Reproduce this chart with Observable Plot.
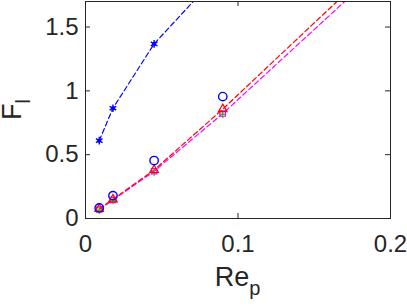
<!DOCTYPE html>
<html>
<head>
<meta charset="utf-8">
<script src="https://cdn.jsdelivr.net/npm/d3@7"></script>
<script src="https://cdn.jsdelivr.net/npm/@observablehq/plot@0.6"></script>
<style>
  html, body { margin: 0; padding: 0; background: #fff; }
  #chart svg { display: block; }
</style>
</head>
<body>
<div id="chart"></div>
<script>
// Data
const rep = [0.009, 0.018, 0.045, 0.09];
const repExt = [0.009, 0.018, 0.045, 0.09, 0.18];
const blueStar = [0.61, 0.864, 1.368, 1.95];
const blueCircle = [0.083, 0.179, 0.454, 0.955];
const redTri = [0.075, 0.15, 0.38, 0.857, 1.87];
const magSq = [0.07, 0.145, 0.37, 0.822, 1.81];
const greenMk = [0.065, 0.14, 0.36, 0.815];
const xTicks = [0, 0.1, 0.2];
const yTicks = [0, 0.5, 1, 1.5];
const xTickLabels = ["0", "0.1", "0.2"];
const yTickLabels = ["0", "0.5", "1", "1.5"];

const toRows = (xs, ys) => ys.map((y, i) => ({x: xs[i], y}));
const starRows = toRows(rep, blueStar);
const circRows = toRows(rep, blueCircle);
const redRows = toRows(repExt, redTri);
const magRows = toRows(repExt, magSq);
const greenRows = toRows(rep, greenMk);

const W = 407, H = 305;
const mL = 85, mR = 17, mT = 1, mB = 87;
const innerW = W - mL - mR, innerH = H - mT - mB;
const axisColor = "#262626";
const dash = "5,3";

const plot = Plot.plot({
  width: W, height: H,
  marginLeft: mL, marginRight: mR, marginTop: mT, marginBottom: mB,
  style: {fontFamily: "'Liberation Sans', Arial, Helvetica, sans-serif", color: axisColor, background: "#fff", overflow: "visible"},
  x: {domain: [0, 0.2]},
  y: {domain: [0, 1.7]},
  marks: [
    // lines
    Plot.line(starRows, {x: "x", y: "y", stroke: "#0000ff", strokeWidth: 1.2, strokeDasharray: dash, clip: true}),
    Plot.line(magRows, {x: "x", y: "y", stroke: "#ff00ff", strokeWidth: 1.2, strokeDasharray: dash, clip: true}),
    Plot.line(redRows, {x: "x", y: "y", stroke: "#ff0000", strokeWidth: 1.2, strokeDasharray: dash, clip: true}),
    // markers
    Plot.dot(greenRows, {x: "x", y: "y", symbol: "plus", r: 2.5, stroke: "#00e000", strokeWidth: 1.2, clip: true}),
    Plot.dot(magRows, {x: "x", y: "y", symbol: "square", r: 3, stroke: "#ff00ff", strokeWidth: 1.2, clip: true}),
    Plot.dot(redRows, {x: "x", y: "y", symbol: "triangle", r: 3.2, stroke: "#ff0000", strokeWidth: 1.2, clip: true}),
    Plot.dot(circRows, {x: "x", y: "y", r: 4.2, stroke: "#0000ff", strokeWidth: 1.4, clip: true}),
    Plot.dot(starRows, {x: "x", y: "y", symbol: "asterisk", r: 3.6, stroke: "#0000ff", strokeWidth: 1.4, clip: true}),
    Plot.dot(starRows, {x: "x", y: "y", r: 2, fill: "#0000ff", clip: true}),
    // box and inward ticks
    Plot.frame({stroke: axisColor, strokeWidth: 1}),
    Plot.tickX(xTicks, {x: d => d, insetTop: innerH - 5, stroke: axisColor}),
    Plot.tickX(xTicks, {x: d => d, insetBottom: innerH - 5, stroke: axisColor}),
    Plot.tickY(yTicks, {y: d => d, insetRight: innerW - 5, stroke: axisColor}),
    Plot.tickY(yTicks, {y: d => d, insetLeft: innerW - 5, stroke: axisColor}),
    // tick labels
    Plot.axisX(xTicks, {tickSize: 0, tickPadding: 16, fontSize: 24, label: null, fill: axisColor,
      tickFormat: (d, i) => xTickLabels[i]}),
    Plot.axisY(yTicks, {tickSize: 0, tickPadding: 7, fontSize: 24, label: null, fill: axisColor,
      tickFormat: (d, i) => yTickLabels[i]})
  ]
});
document.getElementById("chart").appendChild(plot);

// Axis titles with subscripts
const svg = d3.select(plot);
const xr = plot.scale("x").range, yr = plot.scale("y").range;
const xMid = (xr[0] + xr[1]) / 2, yMid = (yr[0] + yr[1]) / 2;
const font = "'Liberation Sans', Arial, Helvetica, sans-serif";

const xl = svg.append("text")
  .attr("x", xMid).attr("y", 286)
  .attr("text-anchor", "middle")
  .attr("font-family", font).attr("font-size", 27).attr("fill", axisColor);
xl.append("tspan").text("Re");
xl.append("tspan").attr("dy", 9).attr("font-size", 20).text("p");

const yl = svg.append("text")
  .attr("transform", `translate(21,${yMid}) rotate(-90)`)
  .attr("text-anchor", "middle")
  .attr("font-family", font).attr("font-size", 27).attr("fill", axisColor);
yl.append("tspan").text("F");
yl.append("tspan").attr("dy", 9).attr("font-size", 20).text("l");
</script>
</body>
</html>
